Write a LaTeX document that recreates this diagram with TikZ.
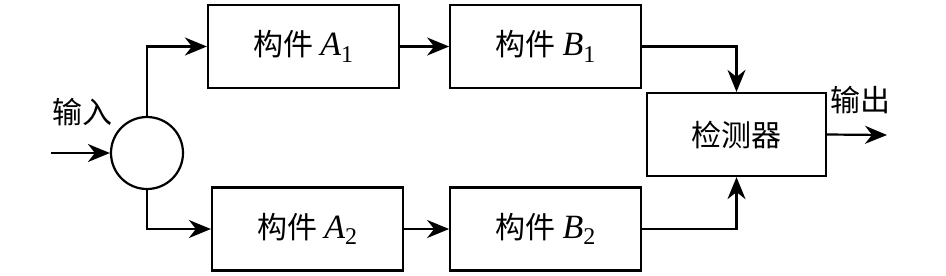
\documentclass[tikz,border=0pt]{standalone}
\usepackage{fontspec}
\newfontfamily\cjk{Noto Sans CJK SC}
\newfontfamily\tms{Liberation Serif}
\newcommand\comp[2]{{\tms\itshape #1}\raisebox{-0.35ex}{\tms\fontsize{12}{12}\selectfont #2}}
\usetikzlibrary{arrows.meta,positioning}

\begin{document}
\begin{tikzpicture}[x=0.5pt,y=-0.5pt,line width=1.1pt,
  >={Stealth[length=11pt,width=9pt,inset=3.5pt]},
  font=\cjk\fontsize{15}{18}\selectfont,
  blk/.style={draw,minimum width=95.5pt,minimum height=41.5pt,inner sep=0pt},
  joint/.style={draw,circle,minimum size=36pt,inner sep=0pt}]
  \useasboundingbox (0,0) rectangle (946,275);
  \node[joint] (split) at (147,153) {};
  \node[blk] (a1) at (303.5,46.5) {构件 {\fontsize{17}{18}\selectfont\comp{A}{1}}};
  \node[blk,right=24.5pt of a1] (b1) {构件 {\fontsize{17}{18}\selectfont\comp{B}{1}}};
  \node[blk] (a2) at (307.5,229) {构件 {\fontsize{17}{18}\selectfont\comp{A}{2}}};
  \node[blk,right=22.5pt of a2] (b2) {构件 {\fontsize{17}{18}\selectfont\comp{B}{2}}};
  \node[blk,minimum width=89.5pt] (det) at (736.5,134.5) {检测器};
  \coordinate (in) at (51,153);
  \coordinate (out) at (887,135);
  \node (inlbl) at (82,112) {输入};
  \node (outlbl) at (860,100) {输出};
  \draw[->] (in) -- (split.west);
  \draw[->] (split.north) |- (a1.west);
  \draw[->] (split.south) |- (a2.west);
  \draw[->] (a1) -- (b1);
  \draw[->] (a2) -- (b2);
  \draw[->] (b1.east) -| (det.north);
  \draw[->] (b2.east) -| (det.south);
  \draw[->] (det.east) -- (out);
\end{tikzpicture}
\end{document}
